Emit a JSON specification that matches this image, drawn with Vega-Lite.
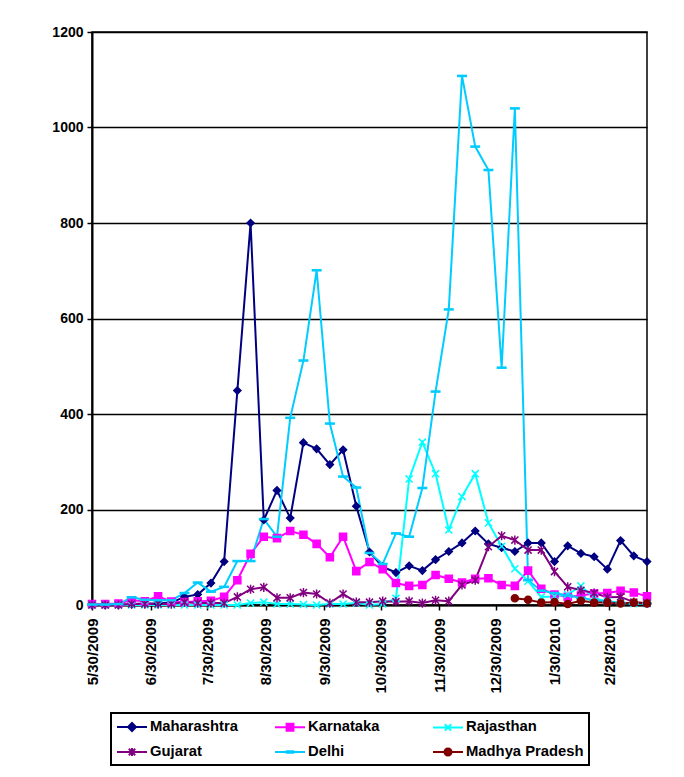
{
  "$schema": "https://vega.github.io/schema/vega-lite/v6.json",
  "width": 555,
  "height": 573,
  "autosize": "none",
  "padding": {"left": 92, "top": 32, "right": 37, "bottom": 172},
  "background": "white",
  "config": {"view": {"stroke": "black", "strokeWidth": 1.5}, "font": "Liberation Sans"},
  "data": {"values": [
    {"date": "2009-05-30", "Maharashtra": 0, "Karnataka": 2, "Rajasthan": 0, "Gujarat": 0, "Delhi": 1, "Madhya Pradesh": null},
    {"date": "2009-06-06", "Maharashtra": 0, "Karnataka": 2, "Rajasthan": 0, "Gujarat": 0, "Delhi": 1, "Madhya Pradesh": null},
    {"date": "2009-06-13", "Maharashtra": 0, "Karnataka": 3, "Rajasthan": 0, "Gujarat": 0, "Delhi": 2, "Madhya Pradesh": null},
    {"date": "2009-06-20", "Maharashtra": 2, "Karnataka": 10, "Rajasthan": 0, "Gujarat": 2, "Delhi": 16, "Madhya Pradesh": null},
    {"date": "2009-06-27", "Maharashtra": 3, "Karnataka": 8, "Rajasthan": 0, "Gujarat": 2, "Delhi": 11, "Madhya Pradesh": null},
    {"date": "2009-07-04", "Maharashtra": 3, "Karnataka": 18, "Rajasthan": 0, "Gujarat": 2, "Delhi": 10, "Madhya Pradesh": null},
    {"date": "2009-07-11", "Maharashtra": 5, "Karnataka": 7, "Rajasthan": 0, "Gujarat": 2, "Delhi": 10, "Madhya Pradesh": null},
    {"date": "2009-07-18", "Maharashtra": 17, "Karnataka": 6, "Rajasthan": 0, "Gujarat": 6, "Delhi": 25, "Madhya Pradesh": null},
    {"date": "2009-07-25", "Maharashtra": 22, "Karnataka": 8, "Rajasthan": 0, "Gujarat": 4, "Delhi": 47, "Madhya Pradesh": null},
    {"date": "2009-08-01", "Maharashtra": 46, "Karnataka": 9, "Rajasthan": 0, "Gujarat": 4, "Delhi": 28, "Madhya Pradesh": null},
    {"date": "2009-08-08", "Maharashtra": 91, "Karnataka": 17, "Rajasthan": 0, "Gujarat": 4, "Delhi": 38, "Madhya Pradesh": null},
    {"date": "2009-08-15", "Maharashtra": 449, "Karnataka": 52, "Rajasthan": 0, "Gujarat": 17, "Delhi": 92, "Madhya Pradesh": null},
    {"date": "2009-08-22", "Maharashtra": 800, "Karnataka": 107, "Rajasthan": 4, "Gujarat": 33, "Delhi": 92, "Madhya Pradesh": null},
    {"date": "2009-08-29", "Maharashtra": 178, "Karnataka": 143, "Rajasthan": 6, "Gujarat": 37, "Delhi": 180, "Madhya Pradesh": null},
    {"date": "2009-09-05", "Maharashtra": 240, "Karnataka": 140, "Rajasthan": 2, "Gujarat": 15, "Delhi": 143, "Madhya Pradesh": null},
    {"date": "2009-09-12", "Maharashtra": 182, "Karnataka": 155, "Rajasthan": 2, "Gujarat": 15, "Delhi": 392, "Madhya Pradesh": null},
    {"date": "2009-09-19", "Maharashtra": 340, "Karnataka": 147, "Rajasthan": 1, "Gujarat": 26, "Delhi": 512, "Madhya Pradesh": null},
    {"date": "2009-09-26", "Maharashtra": 327, "Karnataka": 128, "Rajasthan": 0, "Gujarat": 23, "Delhi": 701, "Madhya Pradesh": null},
    {"date": "2009-10-03", "Maharashtra": 294, "Karnataka": 100, "Rajasthan": 2, "Gujarat": 4, "Delhi": 380, "Madhya Pradesh": null},
    {"date": "2009-10-10", "Maharashtra": 325, "Karnataka": 143, "Rajasthan": 2, "Gujarat": 23, "Delhi": 269, "Madhya Pradesh": null},
    {"date": "2009-10-17", "Maharashtra": 207, "Karnataka": 71, "Rajasthan": 4, "Gujarat": 6, "Delhi": 246, "Madhya Pradesh": null},
    {"date": "2009-10-24", "Maharashtra": 111, "Karnataka": 90, "Rajasthan": 0, "Gujarat": 6, "Delhi": 109, "Madhya Pradesh": null},
    {"date": "2009-10-31", "Maharashtra": 80, "Karnataka": 75, "Rajasthan": 2, "Gujarat": 8, "Delhi": 86, "Madhya Pradesh": null},
    {"date": "2009-11-07", "Maharashtra": 68, "Karnataka": 46, "Rajasthan": 14, "Gujarat": 7, "Delhi": 150, "Madhya Pradesh": null},
    {"date": "2009-11-14", "Maharashtra": 82, "Karnataka": 40, "Rajasthan": 264, "Gujarat": 8, "Delhi": 143, "Madhya Pradesh": null},
    {"date": "2009-11-21", "Maharashtra": 72, "Karnataka": 42, "Rajasthan": 341, "Gujarat": 4, "Delhi": 245, "Madhya Pradesh": null},
    {"date": "2009-11-28", "Maharashtra": 95, "Karnataka": 63, "Rajasthan": 275, "Gujarat": 10, "Delhi": 447, "Madhya Pradesh": null},
    {"date": "2009-12-05", "Maharashtra": 112, "Karnataka": 55, "Rajasthan": 157, "Gujarat": 8, "Delhi": 619, "Madhya Pradesh": null},
    {"date": "2009-12-12", "Maharashtra": 130, "Karnataka": 47, "Rajasthan": 227, "Gujarat": 42, "Delhi": 1108, "Madhya Pradesh": null},
    {"date": "2009-12-19", "Maharashtra": 155, "Karnataka": 55, "Rajasthan": 275, "Gujarat": 52, "Delhi": 960, "Madhya Pradesh": null},
    {"date": "2009-12-26", "Maharashtra": 128, "Karnataka": 56, "Rajasthan": 172, "Gujarat": 122, "Delhi": 911, "Madhya Pradesh": null},
    {"date": "2010-01-02", "Maharashtra": 120, "Karnataka": 42, "Rajasthan": 123, "Gujarat": 145, "Delhi": 497, "Madhya Pradesh": null},
    {"date": "2010-01-09", "Maharashtra": 112, "Karnataka": 40, "Rajasthan": 76, "Gujarat": 136, "Delhi": 1040, "Madhya Pradesh": 14},
    {"date": "2010-01-16", "Maharashtra": 130, "Karnataka": 72, "Rajasthan": 50, "Gujarat": 115, "Delhi": 52, "Madhya Pradesh": 11},
    {"date": "2010-01-23", "Maharashtra": 130, "Karnataka": 34, "Rajasthan": 17, "Gujarat": 115, "Delhi": 30, "Madhya Pradesh": 5},
    {"date": "2010-01-30", "Maharashtra": 91, "Karnataka": 22, "Rajasthan": 18, "Gujarat": 70, "Delhi": 25, "Madhya Pradesh": 6},
    {"date": "2010-02-06", "Maharashtra": 124, "Karnataka": 17, "Rajasthan": 22, "Gujarat": 38, "Delhi": 20, "Madhya Pradesh": 2},
    {"date": "2010-02-13", "Maharashtra": 108, "Karnataka": 20, "Rajasthan": 40, "Gujarat": 31, "Delhi": 15, "Madhya Pradesh": 9},
    {"date": "2010-02-20", "Maharashtra": 101, "Karnataka": 24, "Rajasthan": 15, "Gujarat": 25, "Delhi": 10, "Madhya Pradesh": 5},
    {"date": "2010-02-27", "Maharashtra": 75, "Karnataka": 25, "Rajasthan": 7, "Gujarat": 16, "Delhi": 7, "Madhya Pradesh": 5},
    {"date": "2010-03-06", "Maharashtra": 135, "Karnataka": 30, "Rajasthan": 5, "Gujarat": 17, "Delhi": 4, "Madhya Pradesh": 3},
    {"date": "2010-03-13", "Maharashtra": 103, "Karnataka": 26, "Rajasthan": 3, "Gujarat": 6, "Delhi": 3, "Madhya Pradesh": 5},
    {"date": "2010-03-20", "Maharashtra": 91, "Karnataka": 18, "Rajasthan": 3, "Gujarat": 4, "Delhi": 3, "Madhya Pradesh": 3}
  ]},
  "transform": [
    {"fold": ["Maharashtra", "Karnataka", "Rajasthan", "Gujarat", "Delhi", "Madhya Pradesh"], "as": ["series", "count"]},
    {"filter": "datum.count != null"}
  ],
  "encoding": {
    "x": {
      "field": "date", "type": "temporal",
      "scale": {"type": "utc", "domain": [{"year": 2009, "month": 5, "date": 30, "utc": true}, {"year": 2010, "month": 3, "date": 20, "utc": true}]},
      "axis": {
        "title": null,
        "values": [
          {"year": 2009, "month": 5, "date": 30, "utc": true},
          {"year": 2009, "month": 6, "date": 30, "utc": true},
          {"year": 2009, "month": 7, "date": 30, "utc": true},
          {"year": 2009, "month": 8, "date": 30, "utc": true},
          {"year": 2009, "month": 9, "date": 30, "utc": true},
          {"year": 2009, "month": 10, "date": 30, "utc": true},
          {"year": 2009, "month": 11, "date": 30, "utc": true},
          {"year": 2009, "month": 12, "date": 30, "utc": true},
          {"year": 2010, "month": 1, "date": 30, "utc": true},
          {"year": 2010, "month": 2, "date": 28, "utc": true}
        ],
        "format": "%-m/%-d/%Y",
        "labelAngle": 270,
        "labelOverlap": false,
        "labelFlush": false,
        "grid": false,
        "domainColor": "black", "domainWidth": 2,
        "tickColor": "black", "tickSize": 5, "tickWidth": 1.5,
        "labelFont": "Liberation Sans", "labelFontSize": 15, "labelFontWeight": "bold", "labelColor": "black", "labelPadding": 8
      }
    },
    "y": {
      "field": "count", "type": "quantitative",
      "scale": {"domain": [0, 1200], "nice": false},
      "axis": {
        "title": null,
        "values": [0, 200, 400, 600, 800, 1000, 1200],
        "format": "d",
        "grid": true, "gridColor": "black", "gridWidth": 1.5, "gridOpacity": 1,
        "domainColor": "black", "domainWidth": 2,
        "tickColor": "black", "tickSize": 5, "tickWidth": 1.5,
        "labelFont": "Liberation Sans", "labelFontSize": 14, "labelFontWeight": "bold", "labelColor": "black", "labelPadding": 4
      }
    },
    "color": {
      "field": "series", "type": "nominal",
      "scale": {
        "domain": ["Maharashtra", "Karnataka", "Rajasthan", "Gujarat", "Delhi", "Madhya Pradesh"],
        "range": ["#000080", "#FF00FF", "#00FFFF", "#800080", "#00CCFF", "#800000"]
      },
      "legend": {
        "orient": "none", "legendX": 19, "legendY": 681,
        "title": null, "columns": 3, "direction": "horizontal", "gridAlign": "all",
        "columnPadding": 3, "rowPadding": 8,
        "symbolSize": 256, "symbolStrokeWidth": 2,
        "labelFont": "Liberation Sans", "labelFontSize": 14.8, "labelFontWeight": "bold", "labelColor": "black", "labelOffset": 16,
        "strokeColor": "black", "padding": 5,
        "encode": {
          "legend": {"update": {"strokeWidth": {"value": 2}}},
          "symbols": {"update": {
            "shape": {"signal": "datum.value === 'Maharashtra' ? 'M-1,0H2.75M0.875,-0.5L1.375,0L0.875,0.5L0.375,0Z' : datum.value === 'Karnataka' ? 'M-1,0H2.75M0.445,-0.43H1.305V0.43H0.445Z' : datum.value === 'Rajasthan' ? 'M-1,0H2.75M0.475,-0.4L1.275,0.4M1.275,-0.4L0.475,0.4' : datum.value === 'Gujarat' ? 'M-1,0H2.75M0.475,-0.4L1.275,0.4M1.275,-0.4L0.475,0.4M0.875,-0.5V0.5' : datum.value === 'Delhi' ? 'M-1,0H2.75M0.475,-0.1H1.275V0.1H0.475Z' : 'M-1,0H2.75M1.315,0A0.44,0.44 0 1,1 0.435,0A0.44,0.44 0 1,1 1.315,0Z'"},
            "fill": {"scale": "color", "field": "value"},
            "stroke": {"scale": "color", "field": "value"},
            "strokeWidth": {"value": 2},
            "opacity": {"value": 1},
            "fillOpacity": {"value": 1},
            "size": {"value": 256}
          }}
        }
      }
    }
  },
  "layer": [
    {"mark": {"type": "line", "strokeWidth": 2}},
    {
      "mark": {
        "type": "point", "filled": true, "size": 50, "opacity": 1, "strokeWidth": 1.5,
        "shape": {"expr": "datum.series === 'Maharashtra' ? 'diamond' : datum.series === 'Karnataka' ? 'square' : datum.series === 'Rajasthan' ? 'M-1,-1L1,1M1,-1L-1,1' : datum.series === 'Gujarat' ? 'M-1,-1L1,1M1,-1L-1,1M0,-1.3V1.3' : datum.series === 'Delhi' ? 'M-1.2,-0.15H1.2V0.15H-1.2Z' : 'circle'"},
        "stroke": {"expr": "scale('color', datum.series)"}
      }
    }
  ]
}
